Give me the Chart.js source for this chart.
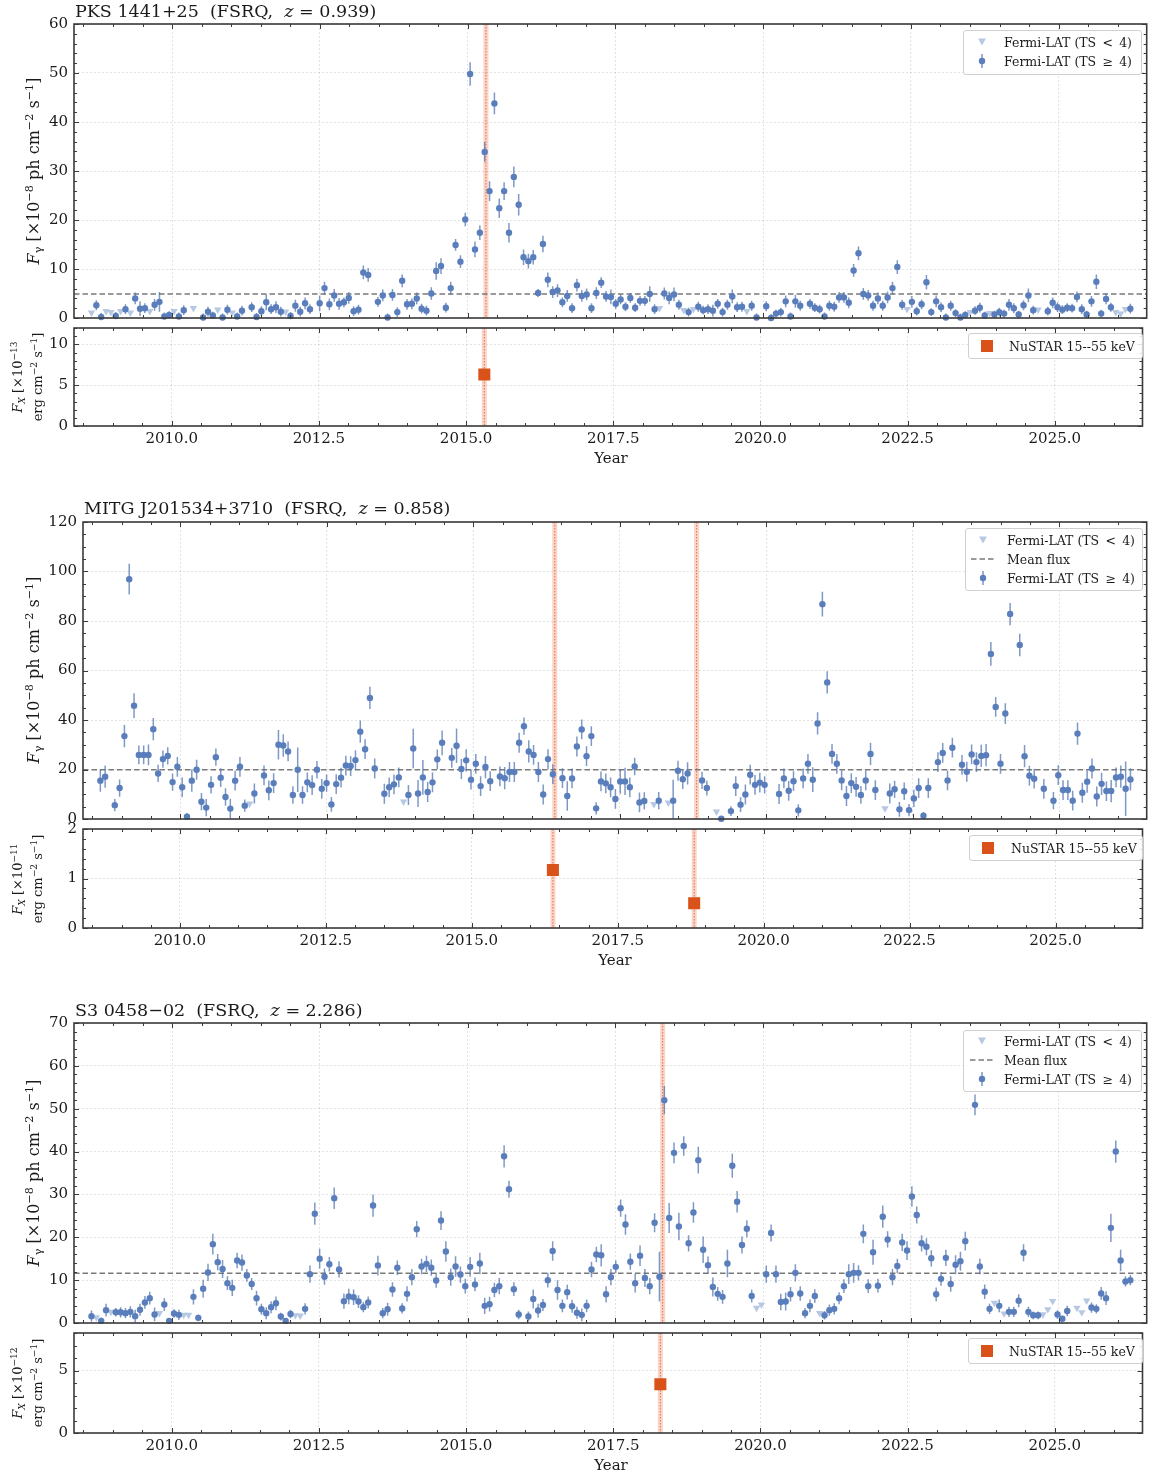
<!DOCTYPE html>
<html>
<head>
<meta charset="utf-8">
<script src="https://cdn.jsdelivr.net/npm/chart.js@4.4.1/dist/chart.umd.min.js"></script>
<style>
  body { margin: 0; background: #fff; font-family: 'DejaVu Serif', serif; color: #1a1a1a; }
  #page { position: relative; width: 1151px; height: 1478px; overflow: hidden; }
  canvas { position: absolute; left: 0; }
  .title { position: absolute; font-size: 17.5px; white-space: nowrap; transform: translateY(-50%); }
  .ylab { position: absolute; white-space: nowrap; text-align: center; transform: translate(-50%, -50%) rotate(-90deg); }
  .ylab.big { font-size: 16px; }
  .ylab.small { font-size: 13px; line-height: 1.5; }
  .xlab { position: absolute; font-size: 15px; transform: translate(-50%, -50%); }
  .legend { position: absolute; border: 1px solid #d0d0d0; border-radius: 3px; background: rgba(255,255,255,0.85); font-size: 12.5px; }
  .legend svg { position: absolute; }
  .legend span { position: absolute; white-space: nowrap; transform: translateY(-50%); }
  sup { font-size: 70%; vertical-align: 0; position: relative; top: -0.5em; }
  sub { font-size: 70%; vertical-align: 0; position: relative; top: 0.3em; }
</style>
</head>
<body>
<div id="page">
  <canvas id="pksTop" width="1151" height="336" style="top:0px"></canvas>
  <canvas id="pksBot" width="1151" height="162" style="top:310px"></canvas>
  <canvas id="mitgTop" width="1151" height="347" style="top:490px"></canvas>
  <canvas id="mitgBot" width="1151" height="162" style="top:811px"></canvas>
  <canvas id="s3Top" width="1151" height="351" style="top:990px"></canvas>
  <canvas id="s3Bot" width="1151" height="163" style="top:1315px"></canvas>

  <div class="title" style="left:75px; top:11px">PKS 1441+25&nbsp; (FSRQ,&nbsp; <i>z</i> = 0.939)</div>
  <div class="title" style="left:84px; top:508px">MITG J201534+3710&nbsp; (FSRQ,&nbsp; <i>z</i> = 0.858)</div>
  <div class="title" style="left:75px; top:1010px">S3 0458&minus;02&nbsp; (FSRQ,&nbsp; <i>z</i> = 2.286)</div>

  <div class="ylab big" style="left:33px; top:171px"><i>F</i><sub>&gamma;</sub> [&times;10<sup>&minus;8</sup> ph cm<sup>&minus;2</sup> s<sup>&minus;1</sup>]</div>
  <div class="ylab small" style="left:27px; top:377px"><i>F</i><sub><i>X</i></sub> [&times;10<sup>&minus;13</sup><br>erg cm<sup>&minus;2</sup> s<sup>&minus;1</sup>]</div>
  <div class="ylab big" style="left:33px; top:670px"><i>F</i><sub>&gamma;</sub> [&times;10<sup>&minus;8</sup> ph cm<sup>&minus;2</sup> s<sup>&minus;1</sup>]</div>
  <div class="ylab small" style="left:27px; top:879px"><i>F</i><sub><i>X</i></sub> [&times;10<sup>&minus;11</sup><br>erg cm<sup>&minus;2</sup> s<sup>&minus;1</sup>]</div>
  <div class="ylab big" style="left:33px; top:1173px"><i>F</i><sub>&gamma;</sub> [&times;10<sup>&minus;8</sup> ph cm<sup>&minus;2</sup> s<sup>&minus;1</sup>]</div>
  <div class="ylab small" style="left:27px; top:1383px"><i>F</i><sub><i>X</i></sub> [&times;10<sup>&minus;12</sup><br>erg cm<sup>&minus;2</sup> s<sup>&minus;1</sup>]</div>

  <div class="xlab" style="left:611px; top:458px">Year</div>
  <div class="xlab" style="left:615px; top:960px">Year</div>
  <div class="xlab" style="left:611px; top:1465px">Year</div>
</div>

<script>
// 30-day Fermi-LAT bins, shared by all three sources
const binStart = 2008.636;
const binDays = 30;
const xMin = 2008.34, xMax = 2026.49;
const yearTicks = [2010, 2012.5, 2015, 2017.5, 2020, 2022.5, 2025];

// PKS 1441+25
const pksFlux = [
  1.1, 2.6, 0.2, 1.4, 1.2, 0.4, 1.4, 1.8, 1.1, 4.0, 1.9, 2.0, 1.4, 2.7, 3.3, 0.3, 0.6, 1.4, 0.3, 1.6,
  null, 2.0, null, 0.1, 1.3, 0.5, 1.7, 0.1, 1.7, 1.1, 0.3, 1.5, null, 2.2, 0.2, 1.4, 3.2, 1.8, 2.2, 1.3,
  1.3, 0.4, 2.5, 1.3, 3.0, 1.8, null, 3.0, 6.1, 2.8, 4.6, 2.9, 3.2, 4.1, 1.4, 1.7, 9.3, 8.8, null, 3.3,
  4.6, 0.1, 4.7, 1.2, 7.6, 2.8, 2.9, 4.0, 1.9, 1.5, 5.0, 9.6, 10.6, 2.1, 6.1, 14.9, 11.5, 20.1, 49.8, 14.0,
  17.4, 33.9, 25.9, 43.8, 22.4, 25.9, 17.4, 28.8, 23.1, 12.4, 11.6, 12.4, 5.1, 15.1, 7.8, 5.3, 5.6, 3.2, 4.5, 2.0,
  6.7, 4.5, 4.8, 2.0, 5.1, 7.2, 4.4, 4.3, 2.9, 3.8, 2.3, 4.1, 2.1, 3.5, 3.5, 4.9, 1.8, 2.0, 5.0, 4.1,
  4.8, 2.7, 1.6, 1.2, 1.8, 2.3, 1.6, 1.8, 1.5, 2.9, 1.2, 2.7, 4.4, 2.2, 2.3, 1.4, 2.5, 0.1, null, 2.4,
  0.0, 0.9, 1.2, 3.4, 0.3, 3.4, 2.5, null, 2.9, 2.1, 1.8, 0.3, 2.5, 2.3, 4.2, 4.2, 3.1, 9.7, 13.2, 4.9,
  4.6, 2.5, 4.0, 2.5, 4.2, 6.1, 10.4, 2.7, 1.8, 3.3, 1.4, 2.8, 7.3, 1.2, 3.4, 2.2, 0.1, 2.5, 1.0, 0.1,
  0.6, 1.2, 1.5, 2.1, 0.5, 1.0, 0.7, 1.2, 0.9, 2.7, 2.0, 0.7, 2.6, 4.6, 1.6, 1.7, null, 1.4, 3.1, 2.2,
  1.7, 2.1, 2.0, 4.3, 1.8, 0.7, 3.4, 7.4, 0.9, 3.9, 2.2, 1.2, 0.9, 1.8, 1.9
];
const pksErr = [
  0, 1.0, 0.8, 0, 0, 0.8, 0, 1.0, 0, 1.2, 1.5, 1.0, 0, 1.2, 2.0, 0.8, 0.8, 0, 0.8, 1.0,
  0, 0, 0, 0.8, 1.0, 0.8, 0, 0.8, 1.0, 0, 0.8, 1.0, 0, 1.0, 0.8, 1.0, 1.6, 1.0, 1.2, 1.0,
  0, 0.8, 1.2, 1.0, 1.2, 1.0, 0, 1.6, 1.3, 1.2, 1.3, 1.2, 1.0, 1.2, 1.0, 1.0, 1.4, 1.4, 0, 1.0,
  1.2, 0.8, 1.2, 1.0, 1.3, 1.1, 1.1, 1.2, 1.0, 1.0, 1.3, 1.8, 1.6, 1.0, 1.3, 1.2, 1.3, 1.4, 2.4, 1.6,
  1.5, 2.0, 2.0, 2.2, 2.0, 1.8, 2.0, 2.1, 2.2, 1.6, 1.5, 1.5, 0.8, 1.7, 1.5, 1.2, 1.3, 1.0, 1.2, 1.0,
  1.3, 1.2, 1.2, 1.0, 1.2, 1.1, 1.1, 1.5, 1.0, 1.0, 0.9, 1.0, 0.9, 1.0, 1.0, 1.6, 1.0, 0, 1.2, 1.3,
  1.4, 1.0, 0, 0.9, 0, 1.0, 0.9, 1.0, 1.2, 1.0, 0.9, 1.0, 1.4, 1.0, 1.0, 0, 1.0, 0.8, 0, 1.0,
  0.8, 0.8, 0.9, 1.2, 0.8, 1.3, 1.0, 0, 1.0, 0.9, 0.9, 0.8, 1.0, 1.0, 1.1, 1.1, 1.1, 1.3, 1.4, 1.2,
  1.1, 1.0, 1.2, 1.0, 1.2, 1.3, 1.4, 1.0, 0, 1.2, 0.9, 1.0, 1.5, 0.8, 1.2, 1.0, 0.8, 1.0, 0.8, 0.8,
  0.8, 0, 0.9, 1.0, 0.8, 0, 0.8, 0.9, 0.8, 1.2, 1.0, 0.8, 1.0, 1.4, 0.9, 0, 0, 0.9, 1.1, 1.0,
  0.9, 0.9, 0.9, 1.1, 1.0, 0.8, 1.1, 1.5, 0.8, 1.1, 0.9, 0, 0, 0, 1.0
];
const pksUL = [0, 3, 4, 6, 8, 12, 17, 21, 26, 29, 40, 117, 122, 124, 135, 168, 181, 185, 195, 211, 212, 213];
const pksMean = 4.9;
const pksNustarTime = [2015.31];
const pksNustarFlux = [6.3];
const pksYTicks = [0, 10, 20, 30, 40, 50, 60];
const pksXrayTicks = [0, 5, 10];

// MITG J201534+3710
const mitgFlux = [
  15.5, 17.1, null, 5.6, 12.5, 33.5, 96.9, 45.8, 25.9, 25.9, 25.9, 36.3, 18.4, 24.2, 25.5, 14.9, 21.1, 12.8, 0.9, 15.5,
  19.9, 7.0, 4.6, 13.8, 25.0, 16.7, 8.9, 4.2, 15.5, 21.1, 5.4, 6.2, 10.3, null, 17.6, 11.6, 14.5, 30.0, 29.7, 27.3,
  9.7, 19.9, 9.7, 14.8, 13.7, 19.9, 12.2, 14.5, 5.9, 14.1, 16.7, 21.6, 21.4, 23.8, 35.3, 28.2, 48.9, 20.4, null, 10.2,
  12.8, 14.0, 16.8, 7.0, 9.7, 28.5, 10.3, 16.8, 10.9, 14.8, 24.1, 30.8, null, 24.7, 29.6, 20.2, 23.7, 15.9, 22.3, 13.3,
  21.0, 15.3, null, 17.2, 16.5, 19.0, 19.0, 30.8, 37.5, 27.3, 25.9, 19.0, 9.9, 24.2, 18.1, null, 16.5, 9.3, 16.4, 29.3,
  36.2, 25.4, 33.5, 4.3, 15.2, 14.4, 12.8, 8.1, 15.2, 15.2, 12.8, 21.2, 6.7, 7.3, null, 6.0, 7.4, null, 6.6, 7.4,
  19.5, 16.1, 18.4, null, null, 15.6, 12.5, null, 3.0, 0.1, null, 3.2, 13.3, 5.8, 9.9, 17.9, 13.8, 14.7, 13.8, null,
  null, 10.1, 16.4, 11.4, 15.3, 3.5, 16.4, 22.3, 15.9, 38.6, 86.8, 55.2, 26.3, 22.3, 15.6, 9.3, 14.5, 13.0, 9.7, 15.6,
  26.3, 11.7, null, 4.3, 10.3, 12.0, 3.9, 11.2, 3.6, 8.3, 12.5, 1.3, 12.5, null, 23.0, 26.7, 15.6, 28.8, null, 21.9,
  19.1, 26.1, 23.0, 25.5, 25.8, 66.7, 45.3, 22.3, 42.6, 82.8, null, 70.3, 25.4, 17.5, 16.3, null, 12.2, null, 7.4, 17.7,
  11.7, 11.7, 7.4, 34.5, 10.6, 15.1, 20.4, 9.1, 14.2, 11.3, 11.3, 16.8, 17.1, 12.2, 16.0
];
const mitgErr = [
  4.5, 4.5, 0, 2.5, 3.5, 4.5, 6.2, 5.0, 3.8, 3.8, 4.2, 4.5, 3.5, 3.5, 3.5, 3.5, 4.0, 4.0, 1.5, 4.5,
  4.0, 3.5, 3.5, 3.5, 3.5, 3.8, 3.5, 4.0, 4.0, 4.0, 2.5, 0, 4.0, 0, 4.0, 4.0, 4.0, 6.0, 4.5, 4.0,
  3.5, 9.0, 3.5, 4.0, 4.0, 3.5, 4.0, 3.5, 3.0, 4.0, 4.0, 4.0, 4.0, 4.0, 4.5, 4.0, 4.5, 4.0, 0, 4.0,
  4.0, 4.0, 4.0, 0, 4.0, 8.0, 5.5, 7.0, 4.0, 4.0, 4.0, 5.0, 0, 4.0, 7.0, 4.0, 4.5, 4.0, 4.0, 4.0,
  4.5, 4.0, 0, 4.0, 4.5, 4.0, 4.0, 4.0, 3.5, 4.5, 4.0, 4.0, 4.0, 4.0, 4.0, 0, 4.0, 6.0, 4.0, 4.0,
  4.0, 4.0, 4.0, 2.5, 4.0, 4.0, 4.0, 4.0, 5.0, 5.5, 4.0, 3.5, 4.0, 3.5, 0, 0, 3.5, 0, 0, 8.5,
  4.0, 4.0, 4.5, 0, 0, 3.5, 3.0, 0, 0, 1.0, 0, 2.0, 4.0, 3.0, 4.0, 4.0, 4.0, 4.0, 3.5, 0,
  0, 4.0, 4.0, 4.0, 4.0, 2.5, 4.0, 4.0, 5.0, 4.5, 5.0, 4.5, 4.0, 4.0, 4.0, 4.0, 4.0, 4.0, 3.5, 4.0,
  4.5, 4.0, 0, 0, 4.0, 3.5, 3.0, 3.5, 2.5, 3.5, 4.0, 1.5, 4.0, 0, 4.0, 4.0, 4.0, 4.0, 0, 4.0,
  4.0, 4.0, 4.0, 4.5, 4.5, 4.8, 4.0, 4.0, 4.2, 4.5, 0, 4.5, 4.5, 4.0, 4.0, 0, 4.0, 0, 3.5, 4.0,
  4.0, 4.0, 4.0, 4.5, 4.0, 4.5, 4.0, 4.0, 4.5, 4.0, 4.5, 4.0, 4.5, 11.0, 4.5
];
const mitgUL = [31, 63, 115, 118, 128, 163];
const mitgMean = 19.9;
const mitgNustarTime = [2016.39, 2018.81];
const mitgNustarFlux = [1.17, 0.5];
const mitgYTicks = [0, 20, 40, 60, 80, 100, 120];
const mitgXrayTicks = [0, 1, 2];

// S3 0458-02
const s3Flux = [
  1.6, 1.3, 0.5, 3.0, 2.6, 2.5, 2.5, 2.3, 2.6, 1.6, 3.1, 4.8, 5.8, 2.0, 2.3, 4.3, 0.5, 2.2, 1.9, 1.9,
  1.9, 6.1, 1.2, 8.0, 11.8, 18.4, 14.2, 12.6, 9.3, 8.2, 14.6, 14.1, 11.1, 9.1, 5.8, 3.2, 2.3, 3.7, 4.6, 1.5,
  0.5, 2.1, 1.8, 1.7, 3.3, 11.4, 25.5, 15.0, 10.8, 13.7, 29.1, 12.5, 5.1, 6.2, 6.0, 5.0, 3.7, 4.8, 27.4, 13.4,
  2.3, 3.2, 7.8, 12.9, 3.4, 6.8, 10.7, 21.9, 13.2, 13.8, 12.9, 9.9, 23.9, 16.7, 10.7, 13.2, 11.3, 8.6, 13.1, 9.0,
  13.9, 4.0, 4.4, 7.7, 8.6, 38.9, 31.2, 7.9, 2.0, null, 1.5, 5.6, 2.9, 4.2, 10.0, 16.8, 7.7, 4.0, 7.2, 3.9,
  2.4, 1.9, 4.0, 12.5, 16.0, 15.8, 6.7, 10.7, 13.1, 26.8, 23.0, 14.3, 9.3, 15.7, 10.5, 8.6, 23.4, 10.8, 52.0, 24.5,
  39.7, 22.5, 41.3, 18.6, 25.8, 38.0, 17.1, 13.5, 8.4, 6.8, 6.1, 13.9, 36.7, 28.3, 18.2, 22.0, 6.3, 3.5, 4.3, 11.4,
  21.0, 11.4, 4.9, 5.0, 6.7, 11.7, 6.9, 2.3, 4.0, 6.3, 2.3, 1.8, 3.0, 3.3, 5.8, 8.6, 11.4, 11.7, 11.7, 20.8,
  8.6, 16.5, 8.7, 24.8, 19.5, 10.7, 13.3, 18.8, 16.9, 29.5, 25.2, 18.6, 17.8, 15.1, 6.7, 10.3, 15.2, 9.1, 13.6, 14.4,
  19.1, null, 50.9, 13.2, 7.3, 3.3, 4.7, 4.0, 2.2, 2.6, 2.6, 5.2, 16.4, 2.6, 1.8, 1.8, 2.0, 3.2, 5.1, 2.0,
  1.0, 2.8, null, 3.5, 2.5, 5.2, 3.6, 3.3, 6.9, 5.8, 22.2, 40.0, 14.6, 9.7, 10.0
];
const s3Err = [
  1.3, 0, 0.8, 1.5, 0, 1.0, 1.2, 1.2, 1.3, 1.5, 1.4, 1.5, 1.5, 1.6, 0, 1.5, 0.6, 1.0, 1.2, 0,
  0, 1.8, 0.8, 2.1, 2.0, 2.4, 1.9, 2.1, 1.6, 1.9, 1.8, 1.9, 1.5, 1.4, 1.7, 1.3, 1.4, 1.4, 1.6, 0.9,
  0.6, 1.0, 0, 0, 1.3, 2.0, 2.6, 2.3, 1.9, 1.7, 2.5, 1.9, 1.8, 1.8, 1.8, 1.5, 1.2, 1.4, 2.6, 2.3,
  1.2, 1.5, 1.7, 1.7, 1.2, 1.8, 1.9, 1.9, 1.8, 1.9, 1.9, 1.7, 2.2, 2.4, 2.0, 2.4, 1.9, 1.7, 2.3, 1.6,
  2.5, 1.9, 1.7, 1.7, 1.9, 2.6, 2.0, 1.6, 1.1, 0, 1.2, 2.2, 1.6, 1.4, 1.7, 2.3, 2.3, 1.5, 1.7, 1.5,
  1.4, 1.5, 1.5, 1.8, 1.8, 2.6, 1.9, 1.9, 1.5, 2.0, 2.4, 1.9, 2.2, 2.4, 2.1, 1.9, 2.2, 5.8, 3.3, 3.5,
  2.4, 3.2, 2.3, 1.9, 2.4, 3.1, 3.1, 2.0, 2.2, 1.6, 1.6, 3.2, 2.8, 2.5, 2.0, 2.0, 1.5, 0, 0, 2.0,
  2.0, 2.0, 1.9, 2.1, 1.7, 2.0, 1.7, 1.2, 1.5, 1.6, 0, 1.0, 1.3, 1.3, 1.4, 1.6, 2.3, 2.3, 1.8, 2.2,
  1.6, 2.9, 1.6, 2.6, 1.9, 1.9, 1.7, 2.0, 2.2, 2.4, 2.0, 1.9, 2.0, 1.9, 1.6, 1.6, 1.9, 1.8, 2.2, 2.2,
  2.2, 0, 2.4, 1.8, 1.7, 1.2, 0, 1.5, 0, 1.2, 1.2, 1.5, 2.0, 1.2, 0.9, 0.9, 0, 0, 0, 1.0,
  0.7, 1.2, 0, 0, 0, 0, 1.2, 1.1, 1.5, 1.6, 3.3, 2.6, 2.5, 1.2, 1.2
];
const s3UL = [1, 4, 14, 19, 20, 42, 43, 137, 138, 150, 186, 188, 196, 197, 198, 203, 204, 205];
const s3Mean = 11.6;
const s3NustarTime = [2018.30];
const s3NustarFlux = [3.9];
const s3YTicks = [0, 10, 20, 30, 40, 50, 60, 70];
const s3XrayTicks = [0, 5];

const tickFont = { family: "'DejaVu Serif', serif", size: 15 };
const fermiBlue = '#5a7ebc';
const ulBlue = '#b7c8e3';
const nustarOrange = '#d9521a';

function lightCurve(flux, err, ul) {
  const det = [], lim = [];
  flux.forEach((v, i) => {
    if (v === null) return;
    const t = binStart + i * binDays / 365.25;
    if (ul.includes(i)) lim.push({ x: t, y: v });
    else det.push({ x: t, y: v, e: err[i] });
  });
  return { det, lim };
}

// bands, mean line, error bars and the inward-ticked frame
function decorFor(c) {
  return {
    id: 'decor',
    beforeDatasetsDraw(chart) {
      const { ctx, chartArea: a, scales: { x, y } } = chart;
      ctx.save();
      ctx.beginPath();
      ctx.rect(a.left, a.top, a.right - a.left, a.bottom - a.top);
      ctx.clip();
      (c.epochs || []).forEach(t => {
        const px = x.getPixelForValue(t);
        ctx.fillStyle = 'rgba(244,160,128,0.45)';
        ctx.fillRect(px - 2.5, a.top, 5, a.bottom - a.top);
        ctx.strokeStyle = 'rgba(220,90,50,0.8)';
        ctx.lineWidth = 1;
        ctx.setLineDash([1.5, 1.5]);
        ctx.beginPath();
        ctx.moveTo(px, a.top);
        ctx.lineTo(px, a.bottom);
        ctx.stroke();
      });
      ctx.setLineDash([]);
      if (c.mean != null) {
        const py = y.getPixelForValue(c.mean);
        ctx.strokeStyle = '#7a7a7a';
        ctx.lineWidth = 1.5;
        ctx.setLineDash([5.5, 3]);
        ctx.beginPath();
        ctx.moveTo(a.left, py);
        ctx.lineTo(a.right, py);
        ctx.stroke();
        ctx.setLineDash([]);
      }
      chart.data.datasets.forEach(ds => {
        if (!ds.errorBars) return;
        ctx.strokeStyle = 'rgba(76,114,176,0.72)';
        ctx.lineWidth = 1.5;
        ds.data.forEach(p => {
          if (!p.e) return;
          const px = x.getPixelForValue(p.x);
          ctx.beginPath();
          ctx.moveTo(px, y.getPixelForValue(p.y - p.e));
          ctx.lineTo(px, y.getPixelForValue(p.y + p.e));
          ctx.stroke();
        });
      });
      ctx.restore();
    },
    afterDraw(chart) {
      const { ctx, chartArea: a, scales: { x, y } } = chart;
      ctx.save();
      ctx.strokeStyle = '#3a3a3a';
      ctx.lineWidth = 1;
      ctx.beginPath();
      for (let v = Math.ceil(xMin * 2) / 2; v <= xMax; v += 0.5) {
        const px = Math.round(x.getPixelForValue(v)) + 0.5;
        const len = yearTicks.some(t => Math.abs(t - v) < 1e-6) ? 5 : 3;
        ctx.moveTo(px, a.bottom); ctx.lineTo(px, a.bottom - len);
        ctx.moveTo(px, a.top); ctx.lineTo(px, a.top + len);
      }
      for (let v = c.yMin; v <= c.yMax + 1e-9; v += c.yMinor) {
        const py = Math.round(y.getPixelForValue(v)) + 0.5;
        const len = c.yTicks.some(t => Math.abs(t - v) < 1e-6) ? 5 : 3;
        ctx.moveTo(a.left, py); ctx.lineTo(a.left + len, py);
        ctx.moveTo(a.right, py); ctx.lineTo(a.right - len, py);
      }
      ctx.stroke();
      ctx.lineWidth = 1.6;
      ctx.strokeRect(a.left, a.top, a.right - a.left, a.bottom - a.top);
      ctx.restore();
    }
  };
}

function makeChart(id, c) {
  const grid = { color: 'rgba(0,0,0,0.14)', lineWidth: 0.8, drawTicks: false };
  const border = { display: false, dash: [2, 2] };
  return new Chart(document.getElementById(id), {
    type: 'scatter',
    data: { datasets: c.datasets },
    options: {
      responsive: false,
      animation: false,
      events: [],
      layout: { padding: { top: c.padTop, right: 4, bottom: 0, left: 0 } },
      plugins: { legend: { display: false }, tooltip: { enabled: false } },
      scales: {
        x: {
          type: 'linear', min: xMin, max: xMax,
          afterBuildTicks: s => { s.ticks = yearTicks.map(v => ({ value: v })); },
          afterFit: s => { s.height = c.axisH; },
          grid, border,
          ticks: { display: c.showX, font: tickFont, color: '#1a1a1a', padding: 4, maxRotation: 0, autoSkip: false,
                   callback: v => Number(v).toFixed(1) }
        },
        y: {
          min: c.yMin, max: c.yMax,
          afterBuildTicks: s => { s.ticks = c.yTicks.map(v => ({ value: v })); },
          afterFit: s => { s.width = c.left; },
          grid, border,
          ticks: { font: tickFont, color: '#1a1a1a', padding: 6, callback: v => String(v) }
        }
      }
    },
    plugins: [decorFor(c)]
  });
}

function fermiDatasets(flux, err, ul) {
  const lc = lightCurve(flux, err, ul);
  return [
    { data: lc.det, errorBars: true, pointStyle: 'circle', pointRadius: 3.2,
      pointBackgroundColor: fermiBlue, pointBorderWidth: 0, clip: 8 },
    { data: lc.lim, pointStyle: 'triangle', pointRotation: 180, pointRadius: 4.3,
      pointBackgroundColor: ulBlue, pointBorderWidth: 0, clip: 8 }
  ];
}

function nustarDatasets(times, flux) {
  return [{ data: times.map((t, i) => ({ x: t, y: flux[i] })), pointStyle: 'rect', pointRadius: 8.5,
            pointBackgroundColor: nustarOrange, pointBorderWidth: 0, clip: 10 }];
}

makeChart('pksTop', { left: 74, padTop: 24, axisH: 18, showX: false, yMin: 0, yMax: 60, yTicks: pksYTicks, yMinor: 2,
  mean: pksMean, epochs: pksNustarTime, datasets: fermiDatasets(pksFlux, pksErr, pksUL) });
makeChart('pksBot', { left: 74, padTop: 18, axisH: 46, showX: true, yMin: 0, yMax: 12, yTicks: pksXrayTicks, yMinor: 1,
  epochs: pksNustarTime, datasets: nustarDatasets(pksNustarTime, pksNustarFlux) });

makeChart('mitgTop', { left: 83, padTop: 32, axisH: 18, showX: false, yMin: 0, yMax: 120, yTicks: mitgYTicks, yMinor: 5,
  mean: mitgMean, epochs: mitgNustarTime, datasets: fermiDatasets(mitgFlux, mitgErr, mitgUL) });
makeChart('mitgBot', { left: 83, padTop: 18, axisH: 45, showX: true, yMin: 0, yMax: 2, yTicks: mitgXrayTicks, yMinor: 0.2,
  epochs: mitgNustarTime, datasets: nustarDatasets(mitgNustarTime, mitgNustarFlux) });

makeChart('s3Top', { left: 74, padTop: 33, axisH: 18, showX: false, yMin: 0, yMax: 70, yTicks: s3YTicks, yMinor: 2,
  mean: s3Mean, epochs: s3NustarTime, datasets: fermiDatasets(s3Flux, s3Err, s3UL) });
makeChart('s3Bot', { left: 74, padTop: 18, axisH: 45, showX: true, yMin: 0, yMax: 8, yTicks: s3XrayTicks, yMinor: 1,
  epochs: s3NustarTime, datasets: nustarDatasets(s3NustarTime, s3NustarFlux) });

// legends
const marks = {
  ul: '<polygon points="8,5.5 16,5.5 12,12.5" fill="' + ulBlue + '"/>',
  det: '<line x1="12" y1="2" x2="12" y2="16" stroke="rgba(76,114,176,0.75)" stroke-width="1.5"/><circle cx="12" cy="9" r="3.2" fill="' + fermiBlue + '"/>',
  mean: '<line x1="0" y1="9" x2="24" y2="9" stroke="#7a7a7a" stroke-width="1.5" stroke-dasharray="5.5,3"/>',
  nustar: '<rect x="6" y="3" width="12" height="12" fill="' + nustarOrange + '"/>'
};
function addLegend(box, rows) {
  const el = document.createElement('div');
  el.className = 'legend';
  el.style.left = box.left + 'px'; el.style.top = box.top + 'px';
  el.style.width = box.width + 'px'; el.style.height = box.height + 'px';
  rows.forEach(r => {
    el.insertAdjacentHTML('beforeend',
      '<svg style="left:' + (box.mark - 12) + 'px; top:' + (r.cy - 9) + 'px" width="24" height="18">' +
      marks[r.kind] + '</svg>' +
      '<span style="left:' + box.text + 'px; top:' + r.cy + 'px">' + r.text + '</span>');
  });
  document.getElementById('page').appendChild(el);
}
const ulText = 'Fermi-LAT (TS&ensp;&lt;&ensp;4)';
const detText = 'Fermi-LAT (TS&ensp;&ge;&ensp;4)';
const nuText = 'NuSTAR 15--55 keV';

addLegend({ left: 963, top: 30, width: 177, height: 43, mark: 18, text: 40 },
  [{ kind: 'ul', cy: 11, text: ulText }, { kind: 'det', cy: 30, text: detText }]);
addLegend({ left: 968, top: 333, width: 173, height: 24, mark: 18, text: 40 },
  [{ kind: 'nustar', cy: 12, text: nuText }]);
addLegend({ left: 965, top: 528, width: 176, height: 61, mark: 17, text: 41 },
  [{ kind: 'ul', cy: 11, text: ulText }, { kind: 'mean', cy: 30, text: 'Mean flux' }, { kind: 'det', cy: 49, text: detText }]);
addLegend({ left: 969, top: 835, width: 172, height: 24, mark: 18, text: 41 },
  [{ kind: 'nustar', cy: 12, text: nuText }]);
addLegend({ left: 963, top: 1030, width: 177, height: 60, mark: 18, text: 40 },
  [{ kind: 'ul', cy: 10, text: ulText }, { kind: 'mean', cy: 29, text: 'Mean flux' }, { kind: 'det', cy: 48, text: detText }]);
addLegend({ left: 968, top: 1338, width: 173, height: 24, mark: 18, text: 40 },
  [{ kind: 'nustar', cy: 12, text: nuText }]);
</script>
</body>
</html>
